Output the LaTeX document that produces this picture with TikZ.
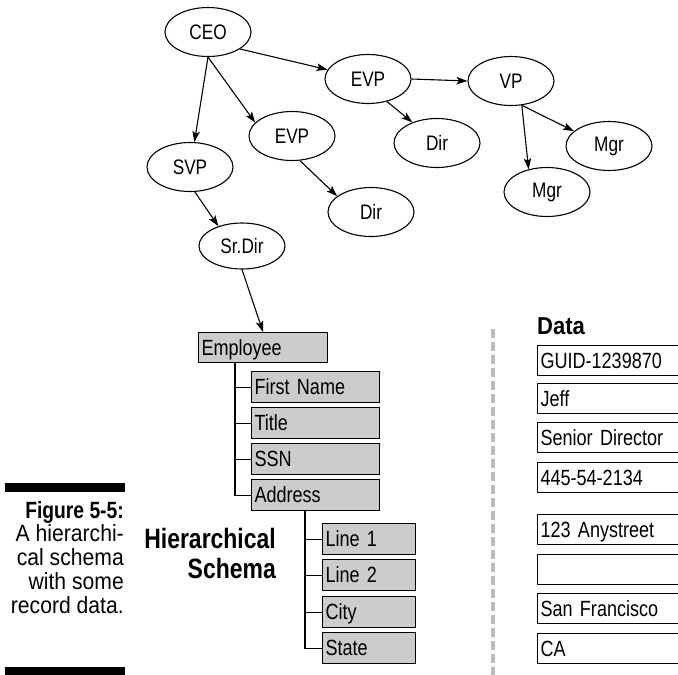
\documentclass[tikz,border=0pt]{standalone}
\usepackage{fontspec}
\setmainfont[FakeStretch=0.82]{Liberation Sans}
\newfontfamily\capfont[FakeStretch=0.9]{Liberation Sans}
\usetikzlibrary{shapes.geometric,arrows.meta}
\definecolor{fieldgray}{HTML}{CCCCCC}
\definecolor{rulegray}{HTML}{BBBBBB}
\tikzset{
  role/.style={ellipse,draw,line width=1.1pt,minimum width=86pt,minimum height=49pt,inner sep=0pt,font=\fontsize{21}{24}\selectfont},
  link/.style={-{Stealth[length=11pt,width=7.5pt,inset=2.5pt]},line width=1.1pt},
  field/.style={draw,fill=fieldgray,line width=1.1pt,anchor=north west,inner xsep=3pt,inner ysep=0pt,
    text width=#1,align=left,text height=15.5pt,text depth=0pt,minimum height=31pt,font=\fontsize{22}{24}\selectfont},
  datum/.style={field=#1,fill=white,minimum height=30pt},
  branch/.style={line width=1.1pt},
  heading/.style={anchor=base east,inner sep=0pt,text height=20pt,text depth=0pt,font=\fontsize{28}{30}\selectfont\bfseries},
  capline/.style={anchor=base east,inner sep=0pt,font=\capfont\fontsize{23.5}{26}\selectfont}
}
\begin{document}
\begin{tikzpicture}[x=1pt,y=-1pt]
\clip (0,0) rectangle (678,675);
\node[role] (ceo) at (208,32) {CEO};
\node[role] (evp1) at (368,79) {EVP};
\node[role] (vp) at (511,81) {VP};
\node[role] (evp2) at (292,136) {EVP};
\node[role] (dir1) at (437,143) {Dir};
\node[role] (mgrr) at (609,146) {Mgr};
\node[role] (svp) at (190,167) {SVP};
\node[role] (mgrb) at (547,192) {Mgr};
\node[role] (dir2) at (371,212) {Dir};
\node[role,minimum height=46pt] (srdir) at (242,246) {Sr.Dir};
\draw[link] (ceo.south) -- (svp.80);
\draw[link] (ceo.south) -- (evp2.160);
\draw[link] (ceo.-28) -- (evp1.167);
\draw[link] (evp1.east) -- (vp.west);
\draw[link] (evp1.-50) -- (dir1.140);
\draw[link] (vp.-66) -- (mgrb.129);
\draw[link] (vp.-66) -- (mgrr.157);
\draw[link] (evp2.-72) -- (dir2.155);
\draw[link] (svp.-79) -- (srdir.140);

\node[field=123pt,minimum height=30pt] (emp) at (198,332) {Employee};
\node[field=122pt] (first) at (251,371) {First Name};
\node[field=122pt] (title) at (251,407) {Title};
\node[field=122pt] (ssn) at (251,443) {SSN};
\node[field=122pt] (addr) at (251,479) {Address};
\node[field=87pt] (line1) at (322,523) {Line 1};
\node[field=87pt] (line2) at (322,559) {Line 2};
\node[field=87pt] (city) at (322,596) {City};
\node[field=87pt] (state) at (322,632) {State};
\draw[link] (srdir.south) -- (emp.north);
\foreach \f in {first,title,ssn,addr}
  \draw[branch] ([xshift=37pt]emp.south west) |- (\f.west);
\foreach \f in {line1,line2,city,state}
  \draw[branch] ([xshift=54pt]addr.south west) |- (\f.west);

\node[heading] (hier) at (276,548) {Hierarchical};
\node[heading] (schema) at (276,578) {Schema};

\draw[rulegray,line width=4pt,dash pattern=on 9pt off 4pt] (492.5,329) -- (492.5,675);

\node[anchor=base west,inner sep=0pt,font=\capfont\bfseries\fontsize{24.5}{28}\selectfont] (datahead) at (537,334) {Data};
\node[datum=164pt] (d1) at (537,345) {GUID-1239870};
\node[datum=164pt] (d2) at (537,383) {Jeff};
\node[datum=164pt] (d3) at (537,422) {Senior Director};
\node[datum=164pt] (d4) at (537,462) {445-54-2134};
\node[datum=164pt] (d5) at (537,514) {123 Anystreet};
\node[datum=164pt] (d6) at (537,554) {};
\node[datum=164pt] (d7) at (537,593) {San Francisco};
\node[datum=164pt] (d8) at (537,633) {CA};

\fill (5,483) rectangle (125,492);
\node[anchor=base east,inner sep=0pt,font=\fontsize{23.5}{26}\selectfont\bfseries] (figno) at (124,518) {Figure 5-5:};
\foreach \t/\y in {A hierarchi-/541,cal schema/565,with some/589,record data./613}
  \node[capline] (cap\y) at (124,\y) {\t};
\fill (5,667) rectangle (125,675);
\end{tikzpicture}
\end{document}
